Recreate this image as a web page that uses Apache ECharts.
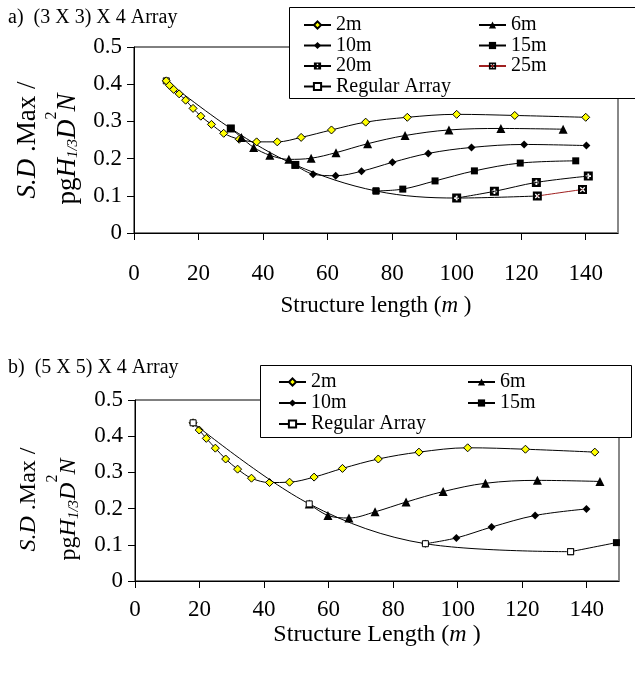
<!DOCTYPE html>
<html><head><meta charset="utf-8">
<script src="https://cdn.jsdelivr.net/npm/echarts@6/dist/echarts.min.js"></script>
<style>html,body{margin:0;padding:0;background:#fff}#c{width:635px;height:673px}</style>
</head><body><div id="c"></div>
<script>
// ---------- data ----------
const xTicks = [0, 20, 40, 60, 80, 100, 120, 140];
const yTicks = [0, 0.1, 0.2, 0.3, 0.4, 0.5];

// Chart a) (3 X 3) X 4 Array
const a2m  = [[10,0.409],[11,0.397],[12.3,0.386],[14,0.374],[16,0.357],[18.3,0.335],[20.7,0.314],[24,0.292],[27.8,0.268],[32.6,0.252],[38,0.245],[44.4,0.245],[51.8,0.257],[61.2,0.277],[71.8,0.298],[84.7,0.311],[100,0.319],[118,0.316],[140,0.311]];
const a6m  = [[30,0.281],[33.3,0.257],[37.1,0.230],[42.1,0.209],[48,0.198],[54.9,0.201],[62.6,0.216],[72.4,0.240],[84,0.262],[97.6,0.277],[113.7,0.281],[133,0.279]];
const a10m = [[50,0.183],[55.5,0.158],[62.5,0.154],[70.5,0.166],[80.1,0.190],[91.2,0.214],[104.6,0.230],[120.9,0.238],[140.2,0.235]];
const a15m = [[75,0.113],[83.3,0.118],[93.3,0.140],[105.5,0.167],[119.7,0.188],[136.9,0.194]];
const a20m = [[100,0.094],[111.7,0.112],[124.7,0.136],[140.8,0.153]];
const a25m = [[125,0.0995],[139,0.117]];
const aReg = [[10,0.409],[30,0.281],[50,0.183],[75,0.113],[100,0.094],[125,0.0995]];

// Chart b) (5 X 5) X 4 Array
const b2m  = [[18,0.437],[19.9,0.417],[22.1,0.394],[24.9,0.367],[28.1,0.337],[31.8,0.309],[36.1,0.284],[41.7,0.272],[47.9,0.273],[55.5,0.287],[64.3,0.311],[75.4,0.337],[88,0.356],[103.1,0.368],[121,0.364],[142.5,0.356]];
const b6m  = [[54,0.213],[59.8,0.181],[66.3,0.174],[74.4,0.191],[84,0.218],[95.5,0.247],[108.6,0.270],[124.7,0.278],[144.1,0.275]];
const b10m = [[90,0.103],[99.6,0.119],[110.5,0.149],[124,0.181],[139.9,0.199]];
const b15m = [[135,0.081],[149.2,0.106]];
const bReg = [[18,0.437],[54,0.213],[90,0.103],[135,0.081]];

// ---------- styles ----------
const FONT = "'Liberation Serif', 'Times New Roman', serif";
const PLUS = 'path://M0,0L10,0L10,10L0,10ZM4,2L4,4L2,4L2,6L4,6L4,8L6,8L6,6L8,6L8,4L6,4L6,2Z';
const CROSS = 'path://M0,0L10,0L10,10L0,10ZM2,3L4,5L2,7L3,8L5,6L7,8L8,7L6,5L8,3L7,2L5,4L3,2Z';
const sty = {
  '2m':  {symbol:'diamond', size:8, color:'#ffff00', border:'#000', bw:1, line:'#000'},
  '6m':  {symbol:'triangle', size:9, color:'#000', border:'#000', bw:0, line:'#000'},
  '10m': {symbol:'diamond', size:8, color:'#000', border:'#000', bw:0, line:'#000'},
  '15m': {symbol:'rect', size:7, color:'#000', border:'#000', bw:0, line:'#000'},
  '20m': {symbol:PLUS, size:9, color:'#000', border:'#000', bw:0, line:'#000'},
  '25m': {symbol:CROSS, size:9, color:'#000', border:'#000', bw:0, line:'#a02020'},
  'Regular Array': {symbol:'rect', size:6, color:'#fff', border:'#000', bw:1, line:'#000'}
};
function mk(name, data, idx, z, firstOverride) {
  const s = sty[name];
  const d = data.map((p, i) => (i === 0 && firstOverride) ? {value: p, symbol: 'rect', symbolSize: 8, itemStyle: {color: '#000', borderWidth: 0}} : p);
  return {
    name, type: 'line', data: d, xAxisIndex: idx, yAxisIndex: idx * 2,
    smooth: 0.35, symbol: s.symbol, symbolSize: s.size, showAllSymbol: true, z,
    itemStyle: {color: s.color, borderColor: s.border, borderWidth: s.bw, opacity: 1},
    lineStyle: {color: s.line, width: 1},
    emphasis: {disabled: true}, animation: false
  };
}

function xAxis(gi, nameText, gap, margin, nfs) {
  return {
    gridIndex: gi, type: 'value', min: 0, max: 150, interval: 20,
    name: nameText, nameLocation: 'middle', nameGap: gap, nameMoveOverlap: false,
    nameTextStyle: {fontFamily: FONT, fontSize: nfs, color: '#000', rich: {i: {fontFamily: FONT, fontSize: nfs, fontStyle: 'italic', color: '#000'}}},
    axisLine: {show: true, onZero: false, lineStyle: {color: '#000', width: 1}},
    axisTick: {show: true, length: 7, customValues: xTicks, lineStyle: {color: '#000'}},
    axisLabel: {customValues: xTicks, margin, fontFamily: FONT, fontSize: 23, color: '#000'},
    splitLine: {show: false}
  };
}
const yName = '{l1i|S.D}{l1| .Max /}{p1|}\n{l2|pg}{l2i|H}{sub|1/3}{l2i|D}{sup|2}{l2i|N}{p2|}';
function yRich(fs, p1, p2) {
  return {
    l1i: {fontFamily: FONT, fontSize: fs, fontStyle: 'italic', color: '#000', lineHeight: 32},
    l1: {fontFamily: FONT, fontSize: fs, color: '#000', lineHeight: 32},
    p1: {width: p1, lineHeight: 32},
    l2: {fontFamily: FONT, fontSize: fs, color: '#000', lineHeight: 48},
    l2i: {fontFamily: FONT, fontSize: fs, fontStyle: 'italic', color: '#000', lineHeight: 48},
    p2: {width: p2, lineHeight: 48},
    sub: {fontFamily: FONT, fontSize: 15, fontStyle: 'italic', color: '#000', lineHeight: 16, padding: [10, 0, 0, 0]},
    sup: {fontFamily: FONT, fontSize: 16, color: '#000', lineHeight: 16, padding: [0, 0, 32, 0]}
  };
}
function yAxisL(gi, gap, fs, p1, p2) {
  return {
    gridIndex: gi, type: 'value', min: 0, max: 0.5, interval: 0.1,
    name: yName, nameLocation: 'middle', nameGap: gap, nameRotate: 90, nameMoveOverlap: false,
    nameTextStyle: {fontFamily: FONT, fontSize: fs, color: '#000', rich: yRich(fs, p1, p2)},
    axisLine: {show: true, lineStyle: {color: '#000', width: 1}},
    axisTick: {show: true, length: 7, lineStyle: {color: '#000'}},
    axisLabel: {margin: 12, fontFamily: FONT, fontSize: 23, color: '#000'},
    splitLine: {show: false}
  };
}
function yAxisR(gi) {
  return {
    gridIndex: gi, type: 'value', min: 0, max: 0.5, position: 'right',
    axisLine: {show: true, lineStyle: {color: '#888', width: 2}},
    axisTick: {show: false}, axisLabel: {show: false}, splitLine: {show: false}
  };
}
function legend(data, left, top, gap) {
  return {
    data, orient: 'vertical', left, top, padding: 0, itemGap: gap,
    itemWidth: 27, itemHeight: 9, z: 6, selectedMode: false,
    textStyle: {fontFamily: FONT, fontSize: 20, color: '#000', lineHeight: 20}
  };
}

const option = {
  backgroundColor: '#fff',
  animation: false,
  title: [
    {text: 'a)  (3 X 3) X 4 Array', left: 8, top: 8, padding: 0, textStyle: {fontFamily: FONT, fontSize: 20, fontWeight: 'normal', color: '#000'}},
    {text: 'b)  (5 X 5) X 4 Array', left: 8, top: 358, padding: 0, textStyle: {fontFamily: FONT, fontSize: 20, fontWeight: 'normal', color: '#000'}}
  ],
  grid: [
    {left: 134, right: 17, top: 47, height: 186, show: true, borderColor: '#000', borderWidth: 1, backgroundColor: 'transparent'},
    {left: 135, right: 16, top: 400, height: 181, show: true, borderColor: '#000', borderWidth: 1, backgroundColor: 'transparent'}
  ],
  xAxis: [
    xAxis(0, 'Structure length ({i|m} )', 61, 29, 23),
    xAxis(1, 'Structure Length ({i|m} )', 42, 17, 24)
  ],
  yAxis: [yAxisL(0, 42, 27, 0, 18), yAxisR(0), yAxisL(1, 42, 24, 18, 38), yAxisR(1)],
  legend: [
    legend(['2m', '10m', '20m', 'Regular Array'], 303, 15, 0.5),
    legend(['6m', '15m', '25m'], 478, 15, 0.5),
    legend(['2m', '10m', 'Regular Array'], 278, 372, 1),
    legend(['6m', '15m'], 467, 372, 1)
  ],
  graphic: [
    {type: 'rect', z: 5, shape: {x: 289.5, y: 7.5, width: 360, height: 91}, style: {fill: '#fff', stroke: '#000', lineWidth: 1}},
    {type: 'rect', z: 5, shape: {x: 260.5, y: 365.5, width: 371, height: 72}, style: {fill: '#fff', stroke: '#000', lineWidth: 1}}
  ],
  series: [
    mk('Regular Array', aReg, 0, 2),
    mk('2m', a2m, 0, 3),
    mk('6m', a6m, 0, 3, true),
    mk('10m', a10m, 0, 3, true),
    mk('15m', a15m, 0, 3),
    mk('20m', a20m, 0, 3),
    mk('25m', a25m, 0, 3),
    mk('2m', b2m, 1, 3),
    mk('6m', b6m, 1, 3),
    mk('10m', b10m, 1, 3),
    mk('15m', b15m, 1, 3),
    mk('Regular Array', bReg, 1, 4)
  ]
};
const chart = echarts.init(document.getElementById('c'), null, {renderer: 'canvas'});
chart.setOption(option);
</script></body></html>
